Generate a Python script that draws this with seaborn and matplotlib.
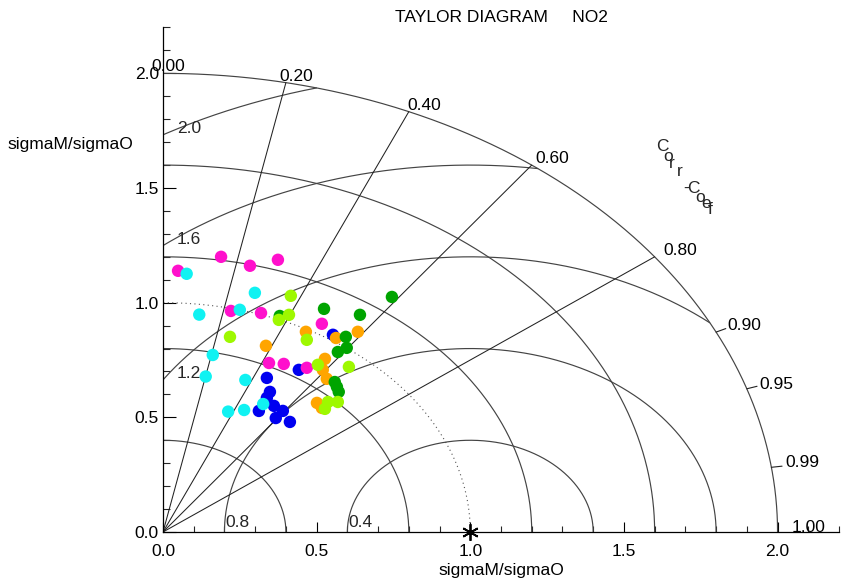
import numpy as np
import pandas as pd
import matplotlib
matplotlib.use("Agg")
import matplotlib.pyplot as plt
import seaborn as sns

# ---------------- data (x = sigma ratio * R, y = sigma ratio * sqrt(1-R^2)) ----------------
blue_x = [0.553, 0.442, 0.338, 0.348, 0.338, 0.361, 0.312, 0.390, 0.367, 0.413]
blue_y = [0.860, 0.707, 0.672, 0.611, 0.585, 0.550, 0.528, 0.528, 0.497, 0.480]

magenta_x = [0.049, 0.189, 0.283, 0.374, 0.221, 0.319, 0.517, 0.345, 0.393, 0.468]
magenta_y = [1.139, 1.200, 1.161, 1.187, 0.964, 0.955, 0.908, 0.737, 0.733, 0.716]

cyan_x = [0.077, 0.299, 0.118, 0.250, 0.162, 0.139, 0.268, 0.212, 0.264, 0.326]
cyan_y = [1.126, 1.043, 0.948, 0.969, 0.772, 0.678, 0.663, 0.525, 0.532, 0.558]

orange_x = [0.465, 0.563, 0.634, 0.335, 0.527, 0.520, 0.533, 0.501, 0.517]
orange_y = [0.873, 0.846, 0.873, 0.812, 0.755, 0.707, 0.668, 0.563, 0.541]

green_x = [0.745, 0.524, 0.641, 0.595, 0.598, 0.569, 0.380, 0.559, 0.566, 0.572]
green_y = [1.025, 0.973, 0.947, 0.851, 0.803, 0.785, 0.942, 0.654, 0.633, 0.611]

lime_x = [0.416, 0.410, 0.377, 0.218, 0.468, 0.605, 0.504, 0.537, 0.569, 0.527]
lime_y = [1.030, 0.947, 0.925, 0.851, 0.838, 0.720, 0.729, 0.567, 0.567, 0.537]

std_radii = [0.4, 0.8, 1.2, 1.6, 2.0]
rms_radii = [0.4, 0.8, 1.2, 1.6, 2.0]
rms_labels = ["0.4", "0.8", "1.2", "1.6", "2.0"]
corr_lines = [0.2, 0.4, 0.6, 0.8]
corr_ticks = [0.9, 0.95, 0.99]
corr_labels = [0.0, 0.2, 0.4, 0.6, 0.8, 0.9, 0.95, 0.99, 1.0]
xticks = [0.0, 0.5, 1.0, 1.5, 2.0]
yticks = [0.0, 0.5, 1.0, 1.5, 2.0]

groups = [("blue", blue_x, blue_y), ("magenta", magenta_x, magenta_y),
          ("cyan", cyan_x, cyan_y), ("orange", orange_x, orange_y),
          ("green", green_x, green_y), ("lime", lime_x, lime_y)]
palette = {"blue": "#0000F0", "magenta": "#FF10CC", "cyan": "#10F2F2",
           "orange": "#FFA500", "green": "#00A400", "lime": "#9EF800"}

rows = []
for name, xs, ys in groups:
    for a, b in zip(xs, ys):
        rows.append({"x": a, "y": b, "group": name})
df = pd.DataFrame(rows)

# ---------------- style ----------------
sns.set_theme(style="white")
plt.rcParams["font.family"] = ["Liberation Sans", "DejaVu Sans"]
FS = 12.5

fig = plt.figure(figsize=(8.48, 5.82), dpi=100)
ax = fig.add_axes([163 / 848, 50 / 582, 676 / 848, 504.5 / 582])
ax.set_xlim(0, 2.2)
ax.set_ylim(0, 2.2)

arc_c = "#444444"
line_c = "#222222"
lw = 0.85

# std arcs (centered at origin)
t = np.linspace(0, np.pi / 2, 500)
for r in std_radii:
    ax.plot(r * np.cos(t), r * np.sin(t), color=arc_c, lw=lw, zorder=2)
# reference dotted arc
ax.plot(np.cos(t), np.sin(t), color="#555555", lw=0.8, ls=(0, (1, 3)), zorder=2)

# RMS arcs centered at (1,0)
phi = np.linspace(0, np.pi, 3000)
for r in rms_radii:
    xx = 1 + r * np.cos(phi)
    yy = r * np.sin(phi)
    m = (xx >= 0) & (xx ** 2 + yy ** 2 <= 4.0 + 1e-6)
    xx = np.where(m, xx, np.nan)
    yy = np.where(m, yy, np.nan)
    ax.plot(xx, yy, color=arc_c, lw=lw, zorder=2)

# correlation rays
for c in corr_lines:
    s = np.sqrt(1 - c ** 2)
    ax.plot([0, 2 * c], [0, 2 * s], color=line_c, lw=0.75, zorder=2)
for c in corr_ticks:
    s = np.sqrt(1 - c ** 2)
    ax.plot([2 * c, 2.035 * c], [2 * s, 2.035 * s], color=line_c, lw=0.8, zorder=2)

# correlation labels
px2pt = 0.72
for c in corr_labels:
    s = np.sqrt(1 - c ** 2)
    dx = (-12 + 26 * c) * px2pt
    dy = (2 if c < 0.95 else 0) * px2pt
    ax.annotate(f"{c:.2f}", (2 * c, 2 * s), xytext=(dx, dy), textcoords="offset points",
                ha="left", va="baseline", fontsize=FS, color="black", zorder=6,
                annotation_clip=False)

# RMS labels
for r, lab in zip(rms_radii, rms_labels):
    if r < 1:
        ax.annotate(lab, (1 - r, 0), xytext=(1 * px2pt, 5 * px2pt), textcoords="offset points",
                    ha="left", va="baseline", fontsize=FS, zorder=6)
    else:
        ax.annotate(lab, (0, np.sqrt(r ** 2 - 1)), xytext=(14 * px2pt, 2 * px2pt),
                    textcoords="offset points", ha="left", va="baseline", fontsize=FS, zorder=6)

# Corr-Coef letters
letters = ["C", "o", "r", "r", "-", "C", "o", "e", "f"]
lx = [1.626, 1.644, 1.655, 1.681, 1.701, 1.727, 1.749, 1.768, 1.781]
ly = [1.679, 1.638, 1.606, 1.572, 1.497, 1.500, 1.460, 1.434, 1.405]
for ch, a, b in zip(letters, lx, ly):
    ax.text(a, b, ch, ha="center", va="center", fontsize=FS, zorder=6)

# points
sns.scatterplot(data=df, x="x", y="y", hue="group", palette=palette, s=80,
                edgecolor="none", linewidth=0, legend=False, ax=ax, zorder=5)

# reference point
ax.plot([1.0], [0.0], marker=(6, 2, 0), color="black", ms=12, mew=1.3,
        clip_on=False, zorder=7, ls="none")

# axes / ticks
for sp in ["top", "right"]:
    ax.spines[sp].set_visible(False)
for sp in ["left", "bottom"]:
    ax.spines[sp].set_color("black")
    ax.spines[sp].set_linewidth(0.9)

ax.set_xticks(xticks)
ax.set_yticks(yticks)
ax.set_xticklabels([f"{v:.1f}" for v in xticks])
ax.set_yticklabels([f"{v:.1f}" for v in yticks])
ax.set_xticks(np.round(np.arange(0, 2.21, 0.1), 2), minor=True)
ax.set_yticks(np.round(np.arange(0, 2.21, 0.1), 2), minor=True)
ax.tick_params(axis="x", which="major", direction="in", length=7, width=0.8, pad=8.5,
               labelsize=FS, colors="black", bottom=True)
ax.tick_params(axis="x", which="minor", direction="in", length=4, width=0.8, bottom=True)
ax.tick_params(axis="y", which="major", direction="in", length=9.5, width=0.8, pad=3,
               labelsize=FS, colors="black", left=True)
ax.tick_params(axis="y", which="minor", direction="in", length=5, width=0.8, left=True)

ax.set_xlabel("sigmaM/sigmaO", fontsize=FS, labelpad=3, color="black")
ax.set_ylabel("sigmaM/sigmaO", fontsize=FS, rotation=0, ha="right", va="center", color="black")
ax.yaxis.set_label_coords(-0.044, 1.69 / 2.2)
ax.set_title("TAYLOR DIAGRAM     NO2", fontsize=FS, pad=4, color="black")

fig.savefig("out.png", dpi=100, facecolor="white")
